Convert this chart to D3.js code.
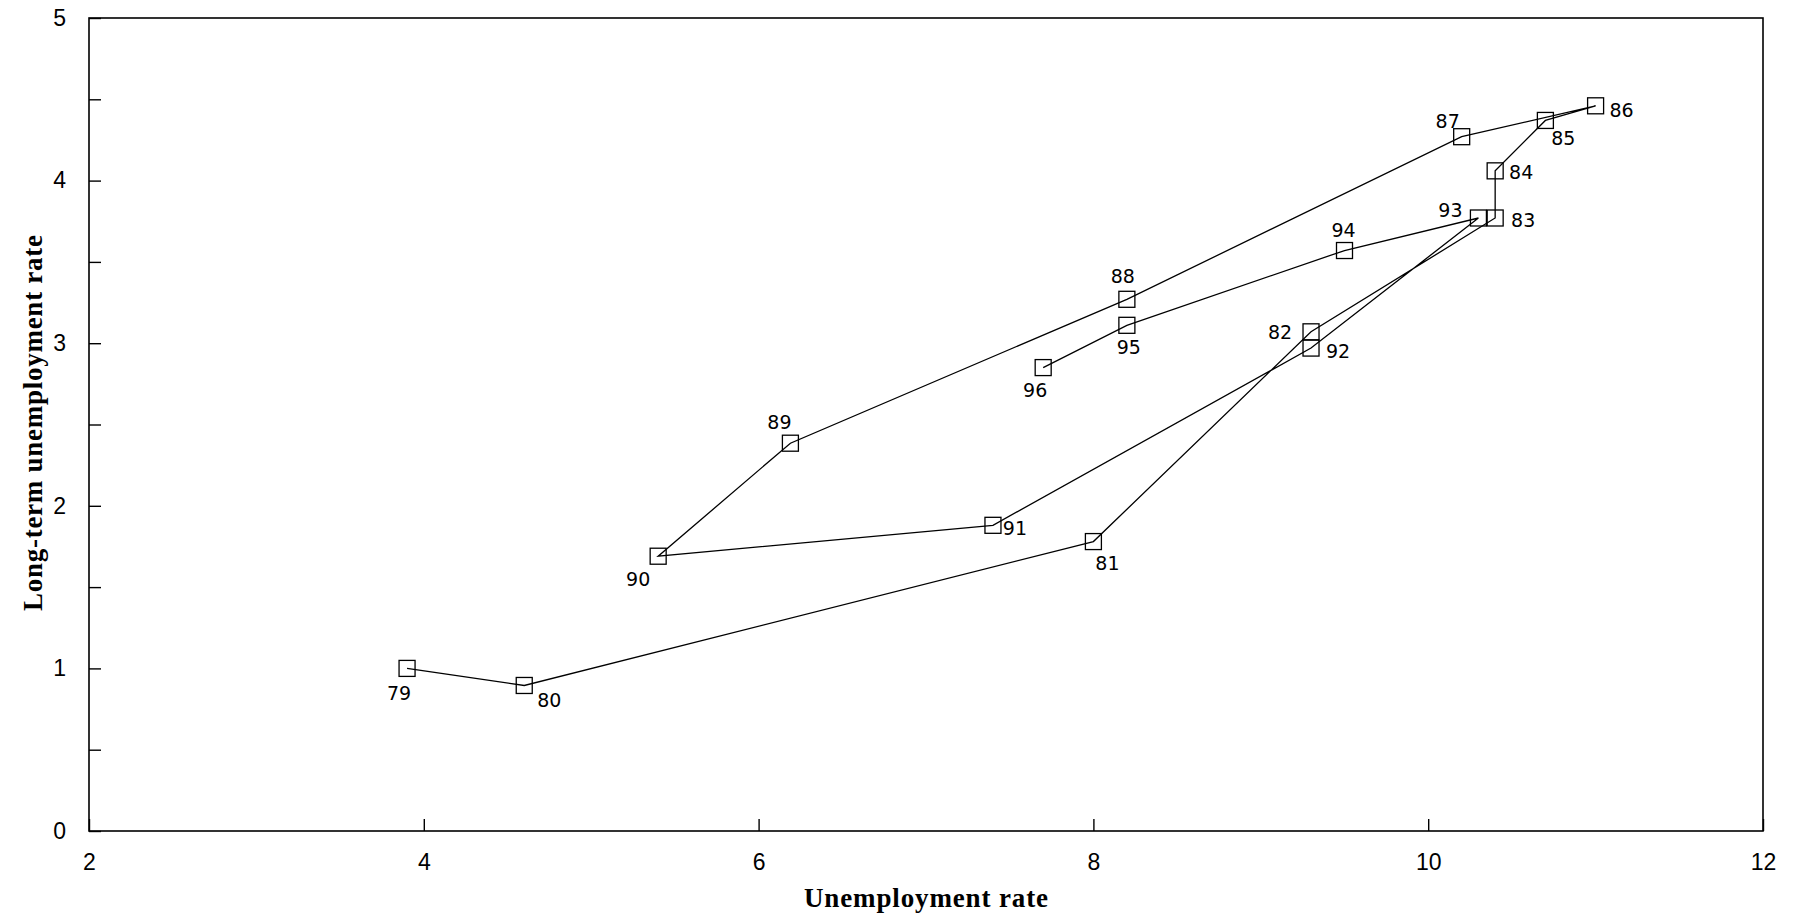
<!DOCTYPE html>
<html>
<head>
<meta charset="utf-8">
<script src="https://cdn.jsdelivr.net/npm/d3@7"></script>
<style>
  html, body { margin: 0; padding: 0; background: #fff; }
  svg { display: block; }
</style>
</head>
<body>
<svg id="chart" width="1794" height="920"></svg>
<script>
// Annual observations, 1979–1996: unemployment rate vs. long-term unemployment rate
const years = ["79","80","81","82","83","84","85","86","87","88","89","90","91","92","93","94","95","96"];
const unemployment = [3.9, 4.6, 8.0, 9.3, 10.4, 10.4, 10.7, 11.0, 10.2, 8.2, 6.19, 5.4, 7.4, 9.3, 10.3, 9.5, 8.2, 7.7];
const longTerm = [1.0, 0.895, 1.78, 3.07, 3.77, 4.06, 4.37, 4.46, 4.27, 3.27, 2.385, 1.69, 1.88, 2.97, 3.77, 3.57, 3.11, 2.85];

const xTickValues = [2, 4, 6, 8, 10, 12];
const yTickValues = [0, 0.5, 1, 1.5, 2, 2.5, 3, 3.5, 4, 4.5, 5];

// Where each year label sits relative to its marker (dx, dy in px)
const labelOffsets = {
  "79": [-8, 25], "80": [25, 15], "81": [14, 21], "82": [-31, 0],
  "83": [28, 2], "84": [26, 1], "85": [18, 18], "86": [26, 4],
  "87": [-14, -16], "88": [-4, -23], "89": [-11, -21], "90": [-20, 23],
  "91": [22, 3], "92": [27, 3], "93": [-28, -8], "94": [-1, -21],
  "95": [2, 22], "96": [-8, 22]
};

const plotLeft = 89, plotRight = 1763, plotTop = 18, plotBottom = 831;
const svg = d3.select("#chart");

const x = d3.scaleLinear().domain([2, 12]).range([plotLeft, plotRight]);
const y = d3.scaleLinear().domain([0, 5]).range([plotBottom, plotTop]);

const points = years.map((yr, i) => ({ yr, u: unemployment[i], l: longTerm[i] }));

// Frame
svg.append("rect")
  .attr("x", plotLeft).attr("y", plotTop)
  .attr("width", plotRight - plotLeft).attr("height", plotBottom - plotTop)
  .attr("fill", "none").attr("stroke", "#000").attr("stroke-width", 1.6);

// Axes with inward ticks
const xAxis = svg.append("g")
  .attr("transform", `translate(0,${plotBottom})`)
  .call(d3.axisBottom(x).tickValues(xTickValues).tickSizeInner(-12).tickSizeOuter(0).tickPadding(23).tickFormat(d3.format("d")));
const yAxis = svg.append("g")
  .attr("transform", `translate(${plotLeft},0)`)
  .call(d3.axisLeft(y).tickValues(yTickValues).tickSizeInner(-12).tickSizeOuter(0).tickPadding(23)
    .tickFormat(d => Number.isInteger(d) ? d3.format("d")(d) : ""));

[xAxis, yAxis].forEach(g => {
  g.select(".domain").remove();
  g.selectAll(".tick line").attr("stroke", "#000").attr("stroke-width", 1.4);
  g.selectAll(".tick text")
    .attr("fill", "#000")
    .style("font-family", "'Liberation Sans', Arial, sans-serif")
    .style("font-size", "23px");
});

// Connecting path in year order
const line = d3.line().x(d => x(d.u)).y(d => y(d.l));
svg.append("path")
  .datum(points)
  .attr("d", line)
  .attr("fill", "none")
  .attr("stroke", "#000")
  .attr("stroke-width", 1.3);

// Square markers
const s = 16;
svg.append("g").selectAll("rect")
  .data(points)
  .join("rect")
  .attr("x", d => x(d.u) - s / 2)
  .attr("y", d => y(d.l) - s / 2)
  .attr("width", s).attr("height", s)
  .attr("fill", "none")
  .attr("stroke", "#000")
  .attr("stroke-width", 1.3);

// Year labels
svg.append("g").selectAll("text")
  .data(points)
  .join("text")
  .attr("x", d => x(d.u) + labelOffsets[d.yr][0])
  .attr("y", d => y(d.l) + labelOffsets[d.yr][1])
  .attr("text-anchor", "middle")
  .attr("dominant-baseline", "central")
  .style("font-family", "'DejaVu Sans', sans-serif")
  .style("font-size", "19px")
  .text(d => d.yr);

// Axis titles
svg.append("text")
  .attr("x", (plotLeft + plotRight) / 2)
  .attr("y", 907)
  .attr("text-anchor", "middle")
  .attr("textLength", 244)
  .attr("lengthAdjust", "spacing")
  .style("font-family", "'Liberation Serif', 'Times New Roman', serif")
  .style("font-weight", "bold")
  .style("font-size", "27px")
  .text("Unemployment rate");

svg.append("text")
  .attr("transform", `translate(42,423) rotate(-90)`)
  .attr("text-anchor", "middle")
  .attr("textLength", 376)
  .attr("lengthAdjust", "spacing")
  .style("font-family", "'Liberation Serif', 'Times New Roman', serif")
  .style("font-weight", "bold")
  .style("font-size", "27px")
  .text("Long-term unemployment rate");
</script>
</body>
</html>
